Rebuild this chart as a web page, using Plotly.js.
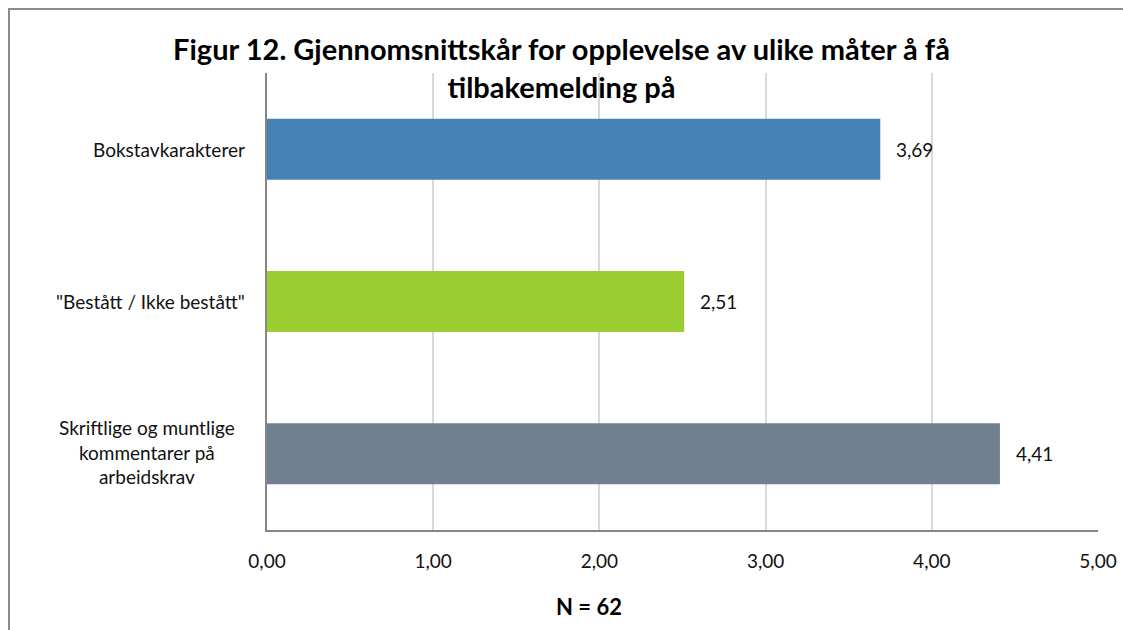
<!DOCTYPE html>
<html>
<head>
<meta charset="utf-8">
<script src="https://cdn.plot.ly/plotly-3.0.1.min.js"></script>
<style>
  body { margin: 0; background: #fff; }
  #wrap { position: relative; width: 1123px; height: 630px; overflow: hidden; }
  #plot { width: 1123px; height: 630px; }
  #frame { position: absolute; left: 8px; top: 8px; width: 1200px; height: 700px;
           border-left: 2px solid #8c8c8c; border-top: 2px solid #8c8c8c; pointer-events: none; }
</style>
</head>
<body>
<div id="wrap">
  <div id="plot"></div>
  <div id="frame"></div>
</div>
<script>
// kategorier, verdier og farger
let categories = ["Bokstavkarakterer", "\"Bestått / Ikke bestått\"", "Skriftlige og muntlige kommentarer på arbeidskrav"];
let labels = ["Bokstavkarakterer", "\"Bestått / Ikke bestått\"", "Skriftlige og muntlige<br>kommentarer på<br>arbeidskrav"];
let values = [3.69, 2.51, 4.41];
let valueText = ["3,69", "2,51", "4,41"];
let colors = ["#4682b4", "#9acd32", "#708090"];
let xticks = [0, 1, 2, 3, 4, 5];

const font = "Lato, 'Open Sans', sans-serif";

const trace = {
  type: 'bar',
  orientation: 'h',
  x: values,
  y: categories,
  marker: { color: colors },
  width: 0.4,
  hoverinfo: 'none'
};

// kategorinavn til venstre (midtstilt som i Excel)
let annotations = labels.map((l, i) => ({
  x: 0, y: categories[i], xref: 'x', yref: 'y',
  xanchor: 'right', yanchor: 'middle',
  xshift: i == 2 ? -30 : -20,
  yshift: i == 2 ? 2 : 0,
  text: l, showarrow: false, align: 'center',
  font: { family: font, size: 19, color: '#111' }
}));
// verdietiketter
values.forEach((v, i) => annotations.push({
  x: v, y: categories[i], xref: 'x', yref: 'y',
  xanchor: 'left', yanchor: 'middle', xshift: 14,
  text: valueText[i], showarrow: false,
  font: { family: font, size: 19, color: '#111' }
}));
annotations.push({
  x: 0.3875, y: -0.168, xref: 'paper', yref: 'paper',
  yanchor: 'middle',
  text: '<b>N = 62</b>', showarrow: false,
  font: { family: font, size: 22, color: '#000' }
});

const layout = {
  width: 1123,
  height: 630,
  margin: { l: 267, r: 25, t: 73, b: 100 },
  paper_bgcolor: '#fff',
  plot_bgcolor: '#fff',
  separators: ',.',
  title: {
    text: '<b>Figur 12. Gjennomsnittskår for opplevelse av ulike måter å få<br>tilbakemelding på</b>',
    x: 0.5, xref: 'container', xanchor: 'center',
    y: 0.905, yref: 'container', yanchor: 'top',
    font: { family: font, size: 29, color: '#000' }
  },
  xaxis: {
    range: [0, 5],
    tickvals: xticks,
    tickformat: '.2f',
    showgrid: true,
    gridcolor: '#d9d9d9',
    gridwidth: 2,
    zeroline: false,
    showline: true,
    linecolor: '#868686',
    linewidth: 2,
    ticks: '',
    ticklabelstandoff: 13,
    tickfont: { family: font, size: 19, color: '#111' },
    fixedrange: true
  },
  yaxis: {
    autorange: 'reversed',
    showticklabels: false,
    showline: true,
    linecolor: '#868686',
    linewidth: 2,
    showgrid: false,
    ticks: '',
    fixedrange: true
  },
  annotations: annotations,
  showlegend: false
};

Plotly.newPlot('plot', [trace], layout, { displayModeBar: false, staticPlot: true });
</script>
</body>
</html>
